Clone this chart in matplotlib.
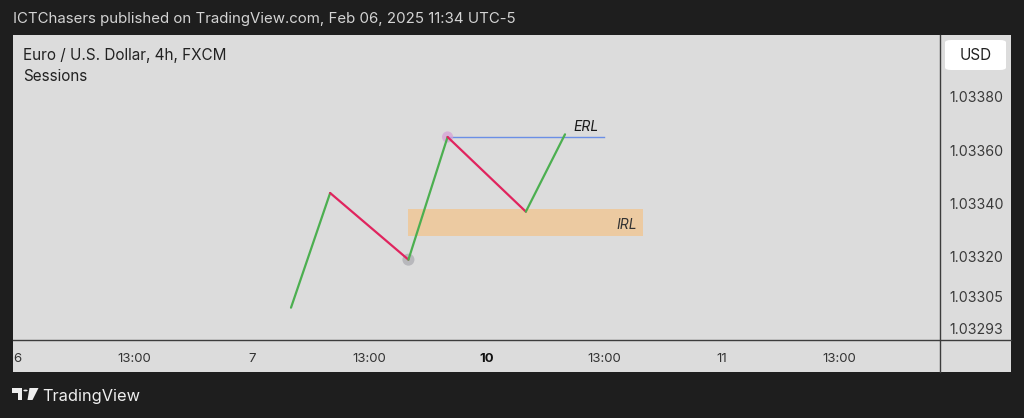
import matplotlib
matplotlib.use("Agg")
import matplotlib.pyplot as plt
from matplotlib.patches import Rectangle, FancyBboxPatch, Polygon, Circle
from matplotlib.lines import Line2D

# ---------------- data ----------------
swing_bars = [7, 8, 10, 11, 13, 14]
swing_prices = [1.03301, 1.03344, 1.03319, 1.03365, 1.03337, 1.03366]
seg_colors = ["#4caf50", "#e0245e", "#4caf50", "#e0245e", "#4caf50"]

erl_bars = [11, 15]
erl_prices = [1.03365, 1.03365]
irl_bars = [10, 16]
irl_prices = [1.03328, 1.03338]

price_ticks = [1.03380, 1.03360, 1.03340, 1.03320, 1.03305, 1.03293]
price_labels = ["1.03380", "1.03360", "1.03340", "1.03320", "1.03305", "1.03293"]
time_ticks = [0, 3, 6, 9, 12, 15, 18, 21]
time_labels = ["6", "13:00", "7", "13:00", "10", "13:00", "11", "13:00"]

FONT = ["Inter", "DejaVu Sans"]
W, H = 1024, 418
fig = plt.figure(figsize=(W / 100, H / 100), dpi=100, facecolor="#1e1e1e")


def fx(px):
    return px / W


def fy(py):
    return 1 - py / H


# chart panel background
fig.patches.append(Rectangle((fx(13), fy(372)), fx(1011) - fx(13), fy(35) - fy(372),
                             transform=fig.transFigure, facecolor="#dcdcdc",
                             edgecolor="none", zorder=-5))

ax = fig.add_axes([fx(13), fy(340), fx(940) - fx(13), fy(35) - fy(340)])
ax.set_zorder(2)
ax.set_facecolor("#dcdcdc")
ax.set_xlim(-0.102, 23.58)
ax.set_ylim(1.03288875, 1.0340325)
for s in ax.spines.values():
    s.set_visible(False)

# IRL zone
ax.add_patch(Rectangle((irl_bars[0], irl_prices[0]), irl_bars[1] - irl_bars[0],
                       irl_prices[1] - irl_prices[0], facecolor="#f2c48e", alpha=0.75,
                       edgecolor="none", zorder=1))
ax.text(irl_bars[1] - 0.17, 1.03332, "IRL",
        ha="right", va="center", fontsize=10, style="italic", color="#333333",
        family=FONT, zorder=2)

# ERL line
ax.plot(erl_bars, erl_prices, color="#6b8fe6", lw=1.0, zorder=2)
ax.text(14.54, 1.033686, "ERL", ha="center", va="center", fontsize=10,
        style="italic", color="#1a1a1a", family=FONT, zorder=4)

# swing markers
ax.scatter([swing_bars[2]], [swing_prices[2]], s=75, color="#a0a0a8", alpha=0.6,
           edgecolor="none", zorder=2)
ax.scatter([swing_bars[3]], [swing_prices[3]], s=65, color="#d6a2d6", alpha=0.75,
           edgecolor="none", zorder=2)

# zigzag
for i, c in enumerate(seg_colors):
    ax.plot(swing_bars[i:i + 2], swing_prices[i:i + 2], color=c, lw=1.6,
            solid_capstyle="round", zorder=3)

# axes ticks
ax.yaxis.tick_right()
ax.set_yticks(price_ticks)
ax.set_yticklabels(price_labels)
ax.tick_params(axis="y", length=0, pad=6.5, labelsize=10.2, labelcolor="#3a3a3a")
ax.set_xticks(time_ticks)
ax.set_xticklabels(time_labels)
ax.tick_params(axis="x", length=0, pad=9.5, labelsize=9.5, labelcolor="#333333")
for lab in ax.get_yticklabels() + ax.get_xticklabels():
    lab.set_family(FONT)
for lab in ax.get_xticklabels():
    if lab.get_text() == "10":
        lab.set_fontweight("bold")
        lab.set_color("#111111")

# separators
fig.add_artist(Line2D([fx(940), fx(940)], [fy(35), fy(372)], color="#3c3c3c", lw=1.0, zorder=5))
fig.add_artist(Line2D([fx(13), fx(1011)], [fy(340), fy(340)], color="#3c3c3c", lw=1.0, zorder=5))

# USD box
fig.patches.append(FancyBboxPatch((fx(945), fy(70)), fx(1006) - fx(945), fy(40) - fy(70),
                                  boxstyle="round,pad=0,rounding_size=0.006",
                                  transform=fig.transFigure, facecolor="white",
                                  edgecolor="none", zorder=3))
fig.text(fx(975.5), fy(55.5), "USD", ha="center", va="center", fontsize=11,
         color="#222222", family=FONT, zorder=4)

# header and legend texts
fig.text(fx(13), fy(19), "ICTChasers published on TradingView.com, Feb 06, 2025 11:34 UTC-5",
         ha="left", va="center", fontsize=10.8, color="#d4d4d4", family=FONT)
fig.text(fx(23), fy(55.5), "Euro / U.S. Dollar, 4h, FXCM", ha="left", va="center",
         fontsize=11, color="#222222", family=FONT, zorder=4)
fig.text(fx(23), fy(76.5), "Sessions", ha="left", va="center", fontsize=11,
         color="#222222", family=FONT, zorder=4)

# TradingView logo
logo = "#eeeeee"
fig.patches.append(Polygon([(fx(12), fy(388)), (fx(22), fy(388)), (fx(22), fy(400)),
                            (fx(17.5), fy(400)), (fx(17.5), fy(392.5)), (fx(12), fy(392.5))],
                           closed=True, transform=fig.transFigure, facecolor=logo,
                           edgecolor="none"))
fig.patches.append(Circle((fx(25.5), fy(390.5)), 2.2 / W, transform=fig.transFigure,
                          facecolor=logo, edgecolor="none"))
fig.patches.append(Polygon([(fx(29.5), fy(388)), (fx(38.5), fy(388)), (fx(32.5), fy(400)),
                            (fx(27.5), fy(400))], closed=True, transform=fig.transFigure,
                           facecolor=logo, edgecolor="none"))
fig.text(fx(42), fy(396), "TradingView", ha="left", va="center", fontsize=11.8,
         color="#eeeeee", family=FONT)

fig.savefig("out.png", dpi=100, facecolor=fig.get_facecolor())
